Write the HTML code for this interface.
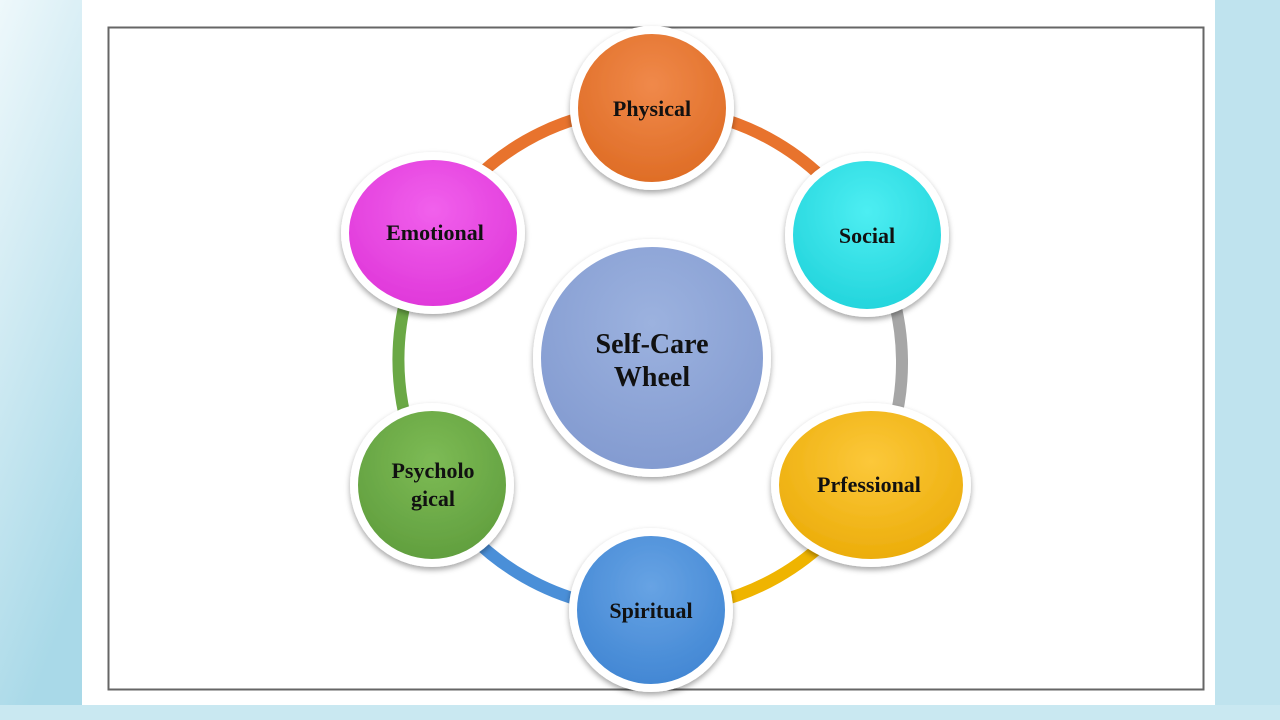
<!DOCTYPE html>
<html><head><meta charset="utf-8"><style>
html,body{margin:0;padding:0;width:1280px;height:720px;overflow:hidden;background:#fff;}
</style></head><body>
<svg width="1280" height="720" viewBox="0 0 1280 720" xmlns="http://www.w3.org/2000/svg" style="position:absolute;left:0;top:0">
<defs>
<linearGradient id="bgl" x1="0" y1="0" x2="0.3" y2="1"><stop offset="0" stop-color="#eef8fb"/><stop offset="1" stop-color="#a9d9e8"/></linearGradient>
<filter id="sh" x="-20%" y="-20%" width="140%" height="140%"><feDropShadow dx="0" dy="3" stdDeviation="3" flood-color="#000" flood-opacity="0.35"/></filter>
<radialGradient id="gOr" cx="50%" cy="35%" r="70%"><stop offset="0" stop-color="#f0894a"/><stop offset="1" stop-color="#dd6a22"/></radialGradient>
<radialGradient id="gCy" cx="50%" cy="35%" r="70%"><stop offset="0" stop-color="#4deef2"/><stop offset="1" stop-color="#1fd2da"/></radialGradient>
<radialGradient id="gYe" cx="50%" cy="35%" r="70%"><stop offset="0" stop-color="#fcc83a"/><stop offset="1" stop-color="#eaaa05"/></radialGradient>
<radialGradient id="gBl" cx="50%" cy="35%" r="70%"><stop offset="0" stop-color="#67a3e4"/><stop offset="1" stop-color="#3e84d2"/></radialGradient>
<radialGradient id="gGr" cx="50%" cy="35%" r="70%"><stop offset="0" stop-color="#7dbb55"/><stop offset="1" stop-color="#5e9c3c"/></radialGradient>
<radialGradient id="gMa" cx="50%" cy="35%" r="70%"><stop offset="0" stop-color="#f160ec"/><stop offset="1" stop-color="#de34d8"/></radialGradient>
<radialGradient id="gCe" cx="50%" cy="35%" r="70%"><stop offset="0" stop-color="#9cb2df"/><stop offset="1" stop-color="#8199cf"/></radialGradient>
</defs>
<rect x="0" y="0" width="82" height="720" fill="url(#bgl)"/>
<rect x="1215" y="0" width="65" height="720" fill="#bfe3ee"/>
<rect x="0" y="705" width="1280" height="15" fill="#c9e8f1"/>
<rect x="82" y="0" width="1133" height="705" fill="#fff"/>
<rect x="108.5" y="27.5" width="1095" height="662" fill="none" stroke="#666" stroke-width="2"/>
<g fill="none" stroke-width="12" stroke-linecap="round">
<path d="M433 233 A250 250 0 0 1 652 108" stroke="#e8732d"/>
<path d="M652 108 A250 250 0 0 1 867 235" stroke="#e8732d"/>
<path d="M867 235 A250 250 0 0 1 870 485" stroke="#a6a6a6"/>
<path d="M870 485 A250 250 0 0 1 651 610" stroke="#efb400"/>
<path d="M651 610 A250 250 0 0 1 432 485" stroke="#4a8fd8"/>
<path d="M432 485 A250 250 0 0 1 433 233" stroke="#6aa845"/>
</g>
<g stroke="#fff" stroke-width="8" filter="url(#sh)">
<circle cx="652" cy="108" r="78" fill="url(#gOr)"/>
<circle cx="867" cy="235" r="78" fill="url(#gCy)"/>
<ellipse cx="871" cy="485" rx="96" ry="78" fill="url(#gYe)"/>
<circle cx="651" cy="610" r="78" fill="url(#gBl)"/>
<circle cx="432" cy="485" r="78" fill="url(#gGr)"/>
<ellipse cx="433" cy="233" rx="88" ry="77" fill="url(#gMa)"/>
<circle cx="652" cy="358" r="115" fill="url(#gCe)"/>
</g>
<g font-family="Liberation Serif, serif" font-weight="bold" font-size="22" fill="#111" text-anchor="middle">
<text x="652" y="116">Physical</text>
<text x="867" y="243">Social</text>
<text x="869" y="492">Prfessional</text>
<text x="651" y="618">Spiritual</text>
<text x="433" y="478">Psycholo</text>
<text x="433" y="506">gical</text>
<text x="435" y="240">Emotional</text>
<text x="652" y="353" font-size="28">Self-Care</text>
<text x="652" y="386" font-size="28">Wheel</text>
</g>
</svg>
</body></html>
